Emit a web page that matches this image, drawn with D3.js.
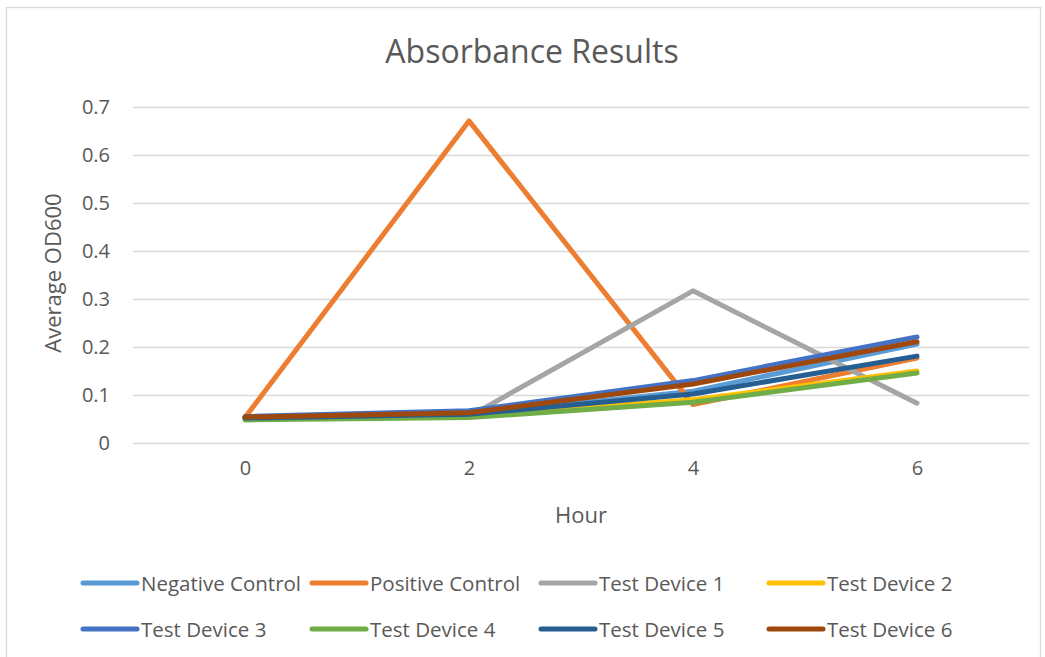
<!DOCTYPE html>
<html>
<head>
<meta charset="utf-8">
<script src="https://cdn.jsdelivr.net/npm/d3@7"></script>
<style>
  body { margin: 0; background: #fff; }
  text { font-family: "Open Sans", "DejaVu Sans", sans-serif; fill: #595959; }
</style>
</head>
<body>
<div id="grafico"></div>
<script>
const horas = ["0", "2", "4", "6"];
const yTicks = [0, 0.1, 0.2, 0.3, 0.4, 0.5, 0.6, 0.7];

const negativeControl = [0.052, 0.060, 0.108, 0.206];
const positiveControl = [0.053, 0.671, 0.080, 0.177];
const testDevice1 = [0.050, 0.055, 0.317, 0.083];
const testDevice2 = [0.050, 0.056, 0.090, 0.150];
const testDevice3 = [0.055, 0.067, 0.130, 0.221];
const testDevice4 = [0.048, 0.053, 0.085, 0.146];
const testDevice5 = [0.052, 0.060, 0.102, 0.181];
const testDevice6 = [0.054, 0.063, 0.123, 0.211];

const nombres = ["Negative Control", "Positive Control", "Test Device 1", "Test Device 2",
  "Test Device 3", "Test Device 4", "Test Device 5", "Test Device 6"];
const colores = ["#5B9BD5", "#ED7D31", "#A5A5A5", "#FFC000",
  "#4472C4", "#70AD47", "#255E91", "#9E480E"];
const valores = [negativeControl, positiveControl, testDevice1, testDevice2,
  testDevice3, testDevice4, testDevice5, testDevice6];

const series = nombres.map((n, i) => ({ nombre: n, color: colores[i], valores: valores[i] }));

const ancho = 1045, alto = 657;
const plot = { left: 133, right: 1029, top: 107, bottom: 443 };

const svg = d3.select("#grafico").append("svg")
  .attr("width", ancho)
  .attr("height", alto);

// borde del area del grafico
svg.append("rect")
  .attr("x", 6.5).attr("y", 7.5)
  .attr("width", 1034).attr("height", 660)
  .attr("fill", "#fff")
  .attr("stroke", "#d9d9d9")
  .attr("stroke-width", 1.3);

const x = d3.scalePoint()
  .domain(horas)
  .range([plot.left, plot.right])
  .padding(0.5);

const y = d3.scaleLinear()
  .domain([0, 0.7])
  .range([plot.bottom, plot.top]);

// lineas de cuadricula
const ejeY = svg.append("g")
  .attr("transform", `translate(${plot.left},0)`)
  .call(d3.axisLeft(y)
    .tickValues(yTicks)
    .tickSize(-(plot.right - plot.left))
    .tickPadding(23)
    .tickFormat(d => d === 0 ? "0" : d3.format(".1f")(d)));
ejeY.select(".domain").remove();
ejeY.selectAll(".tick line").attr("stroke", "#d9d9d9").attr("stroke-width", 1.3);
ejeY.selectAll(".tick text")
  .attr("font-size", 20)
  .attr("fill", "#595959")
  .attr("font-family", "Open Sans, sans-serif");

const ejeX = svg.append("g")
  .attr("transform", `translate(0,${plot.bottom})`)
  .call(d3.axisBottom(x).tickSize(0).tickPadding(18));
ejeX.select(".domain").remove();
ejeX.selectAll(".tick text")
  .attr("font-size", 20)
  .attr("fill", "#595959")
  .attr("font-family", "Open Sans, sans-serif");

const linea = d3.line()
  .x((d, i) => x(horas[i]))
  .y(d => y(d));

svg.append("g")
  .selectAll("path")
  .data(series)
  .join("path")
  .attr("d", d => linea(d.valores))
  .attr("fill", "none")
  .attr("stroke", d => d.color)
  .attr("stroke-width", 5)
  .attr("stroke-linecap", "round")
  .attr("stroke-linejoin", "round");

// titulo
svg.append("text")
  .attr("x", 532)
  .attr("y", 50)
  .attr("text-anchor", "middle")
  .attr("dominant-baseline", "central")
  .attr("font-size", 32)
  .text("Absorbance Results");

svg.append("text")
  .attr("transform", "translate(52,273) rotate(-90)")
  .attr("text-anchor", "middle")
  .attr("dominant-baseline", "central")
  .attr("font-size", 22)
  .text("Average OD600");

svg.append("text")
  .attr("x", 581)
  .attr("y", 514)
  .attr("text-anchor", "middle")
  .attr("dominant-baseline", "central")
  .attr("font-size", 22)
  .text("Hour");

// leyenda
const colLeyenda = [83, 312, 541, 769];
const filaLeyenda = [583, 629];
const leyenda = svg.append("g")
  .selectAll("g")
  .data(series)
  .join("g")
  .attr("transform", (d, i) => `translate(${colLeyenda[i % 4]},${filaLeyenda[Math.floor(i / 4)]})`);

leyenda.append("line")
  .attr("x1", 0).attr("x2", 54)
  .attr("y1", 0).attr("y2", 0)
  .attr("stroke", d => d.color)
  .attr("stroke-width", 5)
  .attr("stroke-linecap", "round");

leyenda.append("text")
  .attr("x", 58)
  .attr("y", 0)
  .attr("dominant-baseline", "central")
  .attr("font-size", 20.5)
  .text(d => d.nombre);
</script>
</body>
</html>
